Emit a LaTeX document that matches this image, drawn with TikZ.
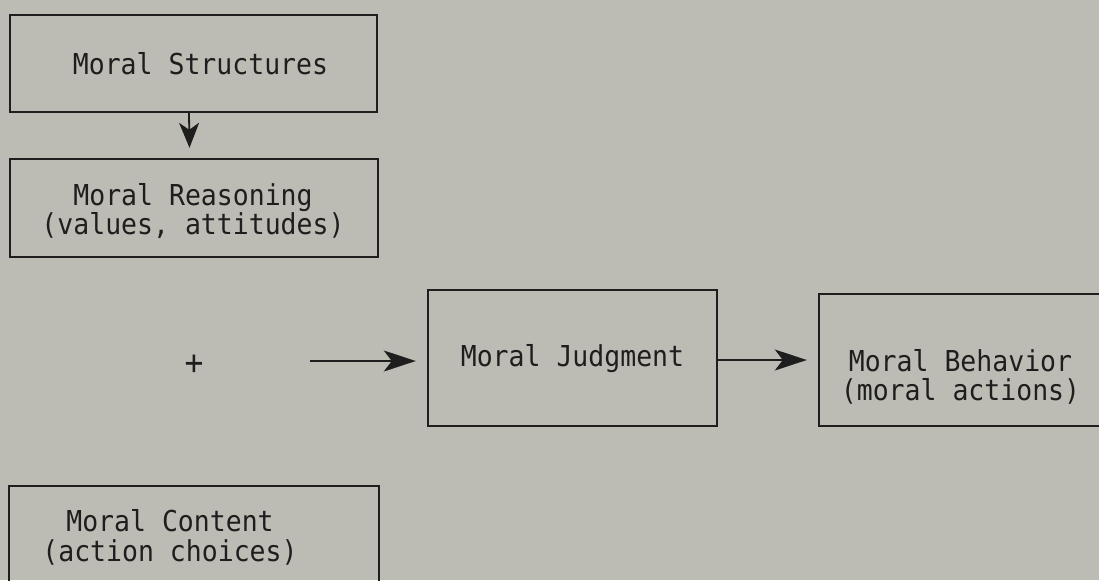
\documentclass[tikz,border=0pt]{standalone}
\usepackage{fontspec}
\setmonofont{DejaVu Sans Mono}[FakeStretch=0.92]
\usetikzlibrary{arrows.meta}
\definecolor{scanbg}{RGB}{189,188,180}
\definecolor{ink}{RGB}{30,30,30}

\begin{document}
\begin{tikzpicture}[x=0.5pt,y=-0.5pt,
  box/.style={draw=ink, line width=1.2pt, inner sep=0pt},
  boxtext/.style={font=\ttfamily\fontsize{14.4pt}{14.75pt}\selectfont, text=ink, align=center, inner sep=0pt},
  arr/.style={draw=ink, line width=0.9pt, -{Stealth[length=16pt,width=10.5pt,inset=4pt]}}]
% background of the scan
\fill[scanbg, use as bounding box] (0,0) rectangle (1099,580);
\clip (0,0) rectangle (1099,580);
% draws boxes
\node[box, minimum width=183.5pt, minimum height=48.5pt] (struct) at (193.5,63.5) {};
\node[box, minimum width=184pt, minimum height=49pt] (reason) at (194,208) {};
\node[box, minimum width=144.5pt, minimum height=68pt] (judg) at (572.5,358) {};
\node[box, minimum width=141.5pt, minimum height=66pt] (behav) at (960.5,360) {};
\node[box, minimum width=185pt, minimum height=57pt] (content) at (194,543) {};
% labels boxes
\node[boxtext] (structtxt) at (200.5,64) {Moral Structures};
\node[boxtext] (reasontxt) at (193,211) {Moral Reasoning\\(values, attitudes)};
\node[boxtext] (judgtxt) at (572.5,359) {Moral Judgment};
\node[boxtext] (behavtxt) at (960.5,377) {Moral Behavior\\(moral actions)};
\node[boxtext] (contenttxt) at (170,537.5) {Moral Content\\(action choices)};
\node[boxtext, font=\ttfamily\fontsize{17pt}{17pt}\selectfont] (plus) at (194,365) {+};
% draws arrows
\coordinate (plusin) at (310,361);
\draw[arr, -{Stealth[length=12.5pt,width=10pt,inset=3.5pt]}] ([xshift=-2.25pt]struct.south) -- ([xshift=-2.25pt,yshift=5pt]reason.north);
\draw[arr, shorten >=5.5pt] (plusin) -- (plusin -| judg.west);
\draw[arr, shorten >=5.5pt] ([yshift=-1pt]judg.east) -- ([yshift=-1pt]judg.east -| behav.west);
\end{tikzpicture}
\end{document}
